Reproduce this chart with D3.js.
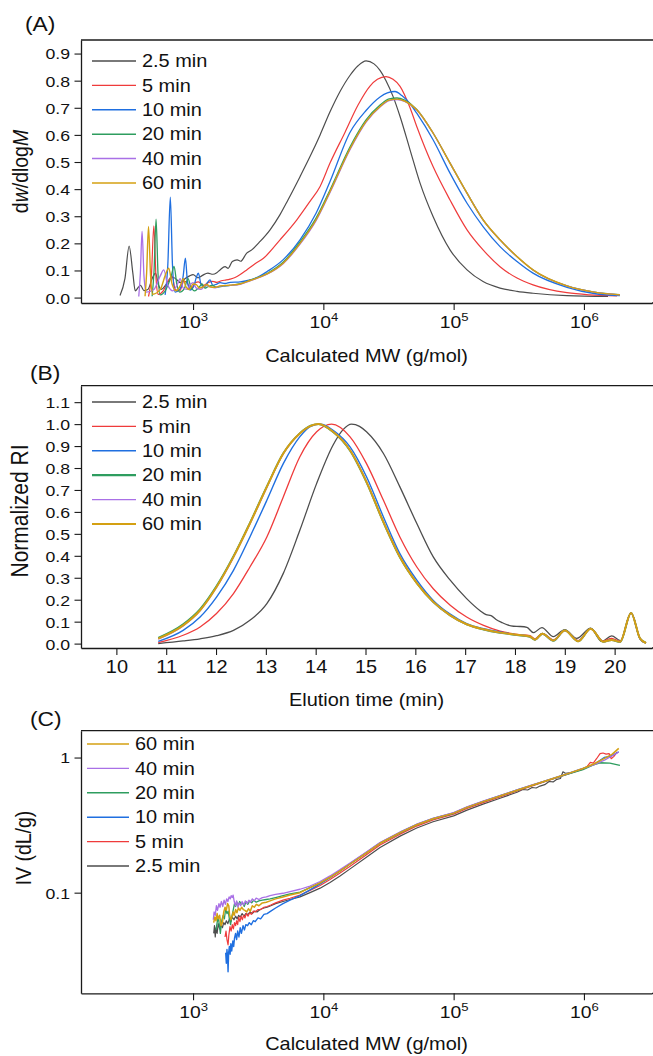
<!DOCTYPE html>
<html>
<head>
<meta charset="utf-8">
<script src="https://cdn.jsdelivr.net/npm/d3@7"></script>
<style>
  body { margin: 0; background: #fff; }
  text { font-family: "Liberation Sans", Arial, Helvetica, sans-serif; fill: #111; }
</style>
</head>
<body>
<svg id="fig" width="653" height="1056"></svg>
<script>
// ---- series info ----
const seriesNames = ['2.5 min', '5 min', '10 min', '20 min', '40 min', '60 min'];
const seriesColors = ['#4d4d4d', '#ef3b3b', '#1f6fe0', '#2e9d5f', '#a970e6', '#d4a012'];

// ---- panel A: dw/dlogM vs MW (g/mol) ----
const distA_25 = [[275,0.008],[300,0.07],[323,0.19],[345,0.09],[360,0.025],[380,0.038],[395,0.045],[420,0.026],[450,0.03],[490,0.075],[515,0.09],[540,0.05],[570,0.03],[620,0.048],[700,0.075],[750,0.066],[800,0.055],[870,0.07],[940,0.08],[1000,0.085],[1090,0.073],[1180,0.082],[1300,0.09],[1420,0.086],[1520,0.092],[1610,0.102],[1760,0.114],[1860,0.108],[2000,0.133],[2180,0.139],[2320,0.134],[2580,0.164],[2820,0.176],[3270,0.207],[3900,0.25],[4650,0.306],[5350,0.36],[6620,0.446],[7900,0.52],[9440,0.6],[11250,0.685],[13430,0.76],[16040,0.82],[18460,0.855],[21270,0.873],[24480,0.862],[27230,0.838],[30260,0.8],[34260,0.742],[38790,0.668],[46270,0.545],[55240,0.422],[69500,0.299],[93800,0.176],[126700,0.102],[168200,0.059],[227000,0.035],[306600,0.023],[406700,0.016],[741000,0.007],[1530000,0.004]];
const distA_5 = [[455,0.004],[480,0.09],[500,0.265],[520,0.07],[540,0.012],[590,0.025],[650,0.065],[690,0.08],[730,0.03],[790,0.025],[850,0.06],[900,0.055],[960,0.03],[1040,0.055],[1100,0.058],[1200,0.045],[1300,0.055],[1420,0.06],[1520,0.056],[1650,0.062],[1800,0.065],[1920,0.068],[2100,0.074],[2300,0.085],[2580,0.102],[2990,0.125],[3470,0.145],[4650,0.213],[6260,0.287],[7900,0.355],[9440,0.41],[11250,0.496],[14680,0.61],[18460,0.71],[22800,0.78],[26000,0.805],[30260,0.815],[34260,0.805],[38790,0.779],[46270,0.7],[52100,0.631],[69500,0.483],[93800,0.36],[126700,0.25],[168200,0.176],[227000,0.114],[306600,0.072],[406700,0.047],[741000,0.018],[1100000,0.01],[1795000,0.006]];
const distA_10 = [[610,0.01],[640,0.12],[669,0.37],[695,0.12],[728,0.02],[790,0.03],[840,0.08],[873,0.145],[905,0.06],[950,0.028],[1010,0.04],[1060,0.075],[1098,0.09],[1150,0.05],[1215,0.038],[1290,0.055],[1350,0.065],[1420,0.045],[1520,0.05],[1610,0.055],[1760,0.052],[1923,0.056],[2300,0.058],[2737,0.065],[3270,0.08],[3700,0.096],[4900,0.139],[6620,0.213],[8790,0.311],[11250,0.428],[16040,0.61],[21270,0.69],[27230,0.74],[31000,0.755],[35490,0.76],[40000,0.745],[46270,0.715],[52100,0.68],[69500,0.582],[93800,0.459],[126700,0.348],[168200,0.262],[227000,0.188],[306600,0.133],[406700,0.09],[741000,0.038],[1200000,0.015],[1890000,0.007]];
const distA_20 = [[485,0.005],[502,0.1],[520,0.289],[538,0.09],[558,0.01],[620,0.03],[680,0.08],[715,0.115],[750,0.05],[790,0.02],[860,0.035],[915,0.07],[960,0.04],[1030,0.025],[1120,0.04],[1170,0.05],[1230,0.035],[1300,0.04],[1400,0.045],[1520,0.038],[1700,0.042],[1923,0.045],[2296,0.051],[2737,0.064],[3698,0.089],[4908,0.13],[6622,0.205],[8790,0.293],[11250,0.397],[16040,0.556],[21270,0.655],[27230,0.71],[32000,0.733],[36790,0.736],[42000,0.728],[52100,0.694],[69500,0.607],[93800,0.496],[126700,0.385],[168200,0.287],[227000,0.213],[306600,0.151],[406700,0.102],[741000,0.043],[1200000,0.02],[1890000,0.011]];
const distA_40 = [[383,0.004],[394,0.09],[406,0.244],[420,0.08],[437,0.02],[500,0.03],[560,0.08],[596,0.102],[640,0.045],[700,0.025],[760,0.05],[795,0.07],[840,0.035],[900,0.03],[960,0.05],[1000,0.055],[1060,0.035],[1150,0.03],[1250,0.045],[1350,0.04],[1475,0.036],[1610,0.042],[1923,0.045],[2296,0.049],[2737,0.062],[3698,0.086],[4908,0.125],[6622,0.197],[8790,0.284],[11250,0.388],[16040,0.546],[21270,0.647],[27230,0.703],[32000,0.726],[36790,0.73],[42000,0.724],[52100,0.692],[69500,0.607],[93800,0.496],[126700,0.385],[168200,0.287],[227000,0.213],[306600,0.151],[406700,0.102],[741000,0.043],[1200000,0.02],[1890000,0.01]];
const distA_60 = [[428,0.005],[440,0.09],[455,0.262],[472,0.08],[490,0.012],[560,0.03],[615,0.085],[650,0.108],[690,0.05],[740,0.025],[800,0.045],[840,0.07],[880,0.04],[940,0.03],[1000,0.05],[1060,0.048],[1120,0.035],[1200,0.04],[1280,0.048],[1350,0.04],[1475,0.038],[1610,0.043],[1923,0.046],[2296,0.05],[2737,0.063],[3698,0.087],[4908,0.127],[6622,0.2],[8790,0.287],[11250,0.391],[16040,0.55],[21270,0.65],[27230,0.705],[32000,0.728],[36790,0.732],[42000,0.725],[52100,0.693],[69500,0.607],[93800,0.496],[126700,0.385],[168200,0.287],[227000,0.213],[306600,0.151],[406700,0.102],[741000,0.043],[1200000,0.02],[1890000,0.01]];

// ---- panel B: normalized RI vs elution time (min) ----
const riB_25 = [[10.84,0],[11.34,0.012],[11.68,0.022],[12.01,0.036],[12.35,0.06],[12.68,0.106],[13.02,0.182],[13.35,0.32],[13.68,0.515],[14.02,0.73],[14.35,0.905],[14.55,0.975],[14.72,1.0],[14.88,0.99],[15.02,0.965],[15.36,0.866],[15.69,0.714],[16.03,0.547],[16.36,0.395],[16.7,0.289],[17.03,0.205],[17.3,0.15],[17.42,0.132],[17.52,0.128],[17.62,0.11],[17.75,0.095],[17.85,0.085],[17.97,0.079],[18.1,0.078],[18.24,0.074],[18.37,0.05],[18.54,0.073],[18.77,0.032],[19.0,0.064],[19.24,0.024],[19.52,0.07],[19.74,0.01],[19.94,0.035],[20.12,0.014],[20.33,0.14],[20.51,0.022],[20.61,0.003]];
const riB_5 = [[10.84,0.005],[11.34,0.038],[11.68,0.076],[12.01,0.137],[12.35,0.228],[12.68,0.349],[13.02,0.486],[13.35,0.668],[13.68,0.85],[14.02,0.965],[14.32,1.0],[14.69,0.942],[15.02,0.82],[15.36,0.653],[15.69,0.486],[16.03,0.349],[16.36,0.25],[16.7,0.175],[17.03,0.121],[17.37,0.083],[17.7,0.057],[18.04,0.042],[18.3,0.036],[18.4,0.022],[18.55,0.047],[18.77,0.017],[19.0,0.06],[19.27,0.014],[19.52,0.068],[19.77,0.012],[19.94,0.024],[20.11,0.01],[20.33,0.14],[20.51,0.023],[20.63,0.003]];
const riB_10 = [[10.84,0.01],[11.34,0.06],[11.68,0.121],[12.01,0.212],[12.35,0.334],[12.68,0.486],[13.02,0.653],[13.35,0.82],[13.68,0.942],[13.9,0.99],[14.1,1.0],[14.35,0.972],[14.69,0.896],[15.02,0.76],[15.36,0.577],[15.69,0.41],[16.03,0.289],[16.36,0.197],[16.7,0.134],[17.03,0.091],[17.37,0.068],[17.7,0.053],[18.04,0.04],[18.3,0.032],[18.4,0.018],[18.55,0.044],[18.77,0.014],[19.0,0.06],[19.27,0.011],[19.52,0.068],[19.77,0.009],[19.94,0.017],[20.11,0.008],[20.33,0.14],[20.51,0.023],[20.63,0.003]];
const riB_20 = [[10.84,0.026],[11.34,0.088],[11.68,0.157],[12.01,0.262],[12.35,0.398],[12.68,0.55],[13.02,0.716],[13.35,0.867],[13.68,0.958],[13.9,0.993],[14.05,1.0],[14.35,0.964],[14.69,0.879],[15.02,0.735],[15.36,0.552],[15.69,0.393],[16.03,0.275],[16.36,0.189],[16.7,0.128],[17.03,0.087],[17.37,0.064],[17.7,0.049],[18.04,0.039],[18.3,0.031],[18.4,0.017],[18.55,0.045],[18.77,0.013],[19.0,0.06],[19.27,0.01],[19.52,0.068],[19.77,0.008],[19.94,0.016],[20.11,0.007],[20.33,0.14],[20.51,0.023],[20.63,0.003]];
const riB_40 = [[10.84,0.021],[11.34,0.081],[11.68,0.15],[12.01,0.256],[12.35,0.393],[12.68,0.545],[13.02,0.712],[13.35,0.865],[13.68,0.956],[13.9,0.992],[14.06,1.0],[14.35,0.966],[14.69,0.882],[15.02,0.738],[15.36,0.555],[15.69,0.396],[16.03,0.277],[16.36,0.19],[16.7,0.129],[17.03,0.088],[17.37,0.065],[17.7,0.05],[18.04,0.04],[18.3,0.032],[18.4,0.018],[18.55,0.045],[18.77,0.014],[19.0,0.06],[19.27,0.011],[19.52,0.068],[19.77,0.009],[19.94,0.017],[20.11,0.008],[20.33,0.14],[20.51,0.023],[20.63,0.003]];
const riB_60 = [[10.84,0.023],[11.34,0.083],[11.68,0.152],[12.01,0.258],[12.35,0.395],[12.68,0.547],[13.02,0.714],[13.35,0.866],[13.68,0.957],[13.9,0.992],[14.06,1.0],[14.35,0.965],[14.69,0.881],[15.02,0.737],[15.36,0.554],[15.69,0.395],[16.03,0.276],[16.36,0.19],[16.7,0.129],[17.03,0.088],[17.37,0.065],[17.7,0.05],[18.04,0.04],[18.3,0.032],[18.4,0.018],[18.55,0.045],[18.77,0.014],[19.0,0.06],[19.27,0.011],[19.52,0.068],[19.77,0.009],[19.94,0.017],[20.11,0.008],[20.33,0.14],[20.51,0.023],[20.63,0.003]];

// ---- panel C: IV (dL/g) vs MW (g/mol) ----
const ivC_25 = [[1440,0.05],[1460,0.057],[1480,0.047],[1500,0.055],[1530,0.05],[1560,0.059],[1600,0.054],[1640,0.058],[1680,0.055],[1720,0.06],[1760,0.058],[1800,0.062],[1850,0.059],[1900,0.064],[1950,0.061],[2000,0.066],[2060,0.063],[2120,0.067],[2180,0.064],[2240,0.068],[2300,0.066],[2380,0.07],[2460,0.067],[2540,0.07],[2640,0.069],[2740,0.072],[2850,0.07],[2960,0.073],[3100,0.072],[3270,0.075],[3500,0.077],[3700,0.078],[3950,0.08],[4300,0.083],[4900,0.086],[5550,0.089],[6620,0.093],[7900,0.1],[9440,0.108],[11250,0.119],[13430,0.133],[16040,0.15],[21270,0.182],[27230,0.216],[38790,0.262],[52100,0.301],[69500,0.335],[100000,0.37],[126700,0.408],[168200,0.452],[227000,0.5],[306600,0.553],[340000,0.58],[370000,0.575],[400000,0.6],[430000,0.595],[460000,0.615],[500000,0.63],[540000,0.665],[580000,0.66],[620000,0.69],[660000,0.7],[690000,0.785],[720000,0.765],[780000,0.77]];
const ivC_5 = [[1760,0.047],[1790,0.052],[1820,0.045],[1856,0.041],[1880,0.048],[1920,0.056],[1960,0.052],[2000,0.058],[2040,0.054],[2080,0.06],[2120,0.057],[2160,0.062],[2200,0.058],[2240,0.066],[2290,0.061],[2340,0.067],[2390,0.063],[2440,0.068],[2500,0.065],[2560,0.07],[2640,0.067],[2720,0.071],[2800,0.069],[2900,0.073],[3000,0.072],[3150,0.075],[3300,0.075],[3500,0.078],[3700,0.079],[3950,0.081],[4300,0.084],[4900,0.088],[5550,0.091],[6620,0.096],[7900,0.104],[9440,0.113],[11250,0.125],[13430,0.14],[16040,0.157],[21270,0.19],[27230,0.225],[38790,0.271],[52100,0.311],[69500,0.345],[100000,0.381],[126700,0.42],[168200,0.464],[227000,0.512],[306600,0.565],[406700,0.62],[549400,0.683],[741000,0.75],[984000,0.82],[1060000,0.86],[1120000,0.92],[1180000,0.91],[1250000,0.98],[1330000,1.07],[1400000,1.08],[1480000,1.06],[1560000,1.07],[1620000,0.98],[1700000,1.02],[1800000,1.1]];
const ivC_10 = [[1780,0.036],[1800,0.03],[1820,0.038],[1840,0.034],[1856,0.026],[1875,0.036],[1900,0.04],[1925,0.035],[1950,0.042],[1980,0.037],[2020,0.044],[2050,0.04],[2080,0.046],[2120,0.05],[2160,0.045],[2200,0.052],[2250,0.047],[2300,0.055],[2350,0.05],[2420,0.057],[2480,0.053],[2540,0.058],[2620,0.057],[2700,0.06],[2800,0.058],[2900,0.062],[3000,0.061],[3150,0.065],[3300,0.064],[3500,0.069],[3700,0.07],[3950,0.073],[4300,0.077],[4900,0.083],[5550,0.088],[6620,0.095],[7900,0.105],[9440,0.116],[11250,0.129],[13430,0.145],[16040,0.164],[21270,0.198],[27230,0.234],[38790,0.28],[52100,0.32],[69500,0.354],[100000,0.39],[126700,0.43],[168200,0.474],[227000,0.522],[306600,0.575],[406700,0.628],[549400,0.69],[741000,0.757],[984000,0.83],[1200000,0.89],[1430000,1.0],[1600000,1.02],[1850000,1.1]];
const ivC_20 = [[1500,0.053],[1530,0.06],[1560,0.066],[1590,0.058],[1620,0.05],[1660,0.062],[1700,0.068],[1740,0.064],[1780,0.076],[1820,0.07],[1860,0.073],[1900,0.064],[1940,0.058],[1980,0.066],[2030,0.074],[2080,0.083],[2120,0.079],[2170,0.085],[2220,0.08],[2280,0.086],[2340,0.082],[2400,0.084],[2470,0.079],[2550,0.086],[2630,0.082],[2720,0.087],[2820,0.084],[2920,0.088],[3050,0.085],[3200,0.087],[3400,0.088],[3650,0.089],[3900,0.09],[4300,0.092],[4900,0.095],[5550,0.098],[6620,0.101],[7900,0.109],[9440,0.118],[11250,0.13],[13430,0.145],[16040,0.163],[21270,0.196],[27230,0.231],[38790,0.277],[52100,0.317],[69500,0.351],[100000,0.387],[126700,0.427],[168200,0.471],[227000,0.519],[306600,0.572],[406700,0.625],[549400,0.686],[741000,0.752],[984000,0.815],[1170000,0.88],[1330000,0.915],[1580000,0.91],[1890000,0.875]];
const ivC_40 = [[1430,0.063],[1450,0.072],[1480,0.068],[1510,0.08],[1540,0.074],[1580,0.083],[1610,0.078],[1650,0.086],[1690,0.079],[1730,0.088],[1770,0.082],[1810,0.09],[1850,0.086],[1890,0.093],[1930,0.09],[1960,0.095],[2000,0.092],[2030,0.096],[2070,0.086],[2110,0.08],[2160,0.087],[2210,0.078],[2260,0.084],[2320,0.08],[2380,0.086],[2450,0.081],[2520,0.087],[2600,0.083],[2680,0.088],[2760,0.085],[2850,0.09],[2950,0.087],[3050,0.091],[3200,0.089],[3400,0.092],[3650,0.093],[3900,0.095],[4300,0.097],[4900,0.099],[5550,0.102],[6620,0.106],[7900,0.112],[9440,0.121],[11250,0.133],[13430,0.148],[16040,0.166],[21270,0.199],[27230,0.235],[38790,0.281],[52100,0.321],[69500,0.355],[100000,0.391],[126700,0.431],[168200,0.475],[227000,0.523],[306600,0.576],[406700,0.63],[549400,0.69],[741000,0.758],[984000,0.83],[1200000,0.885],[1450000,0.96],[1650000,1.03],[1850000,1.1]];
const ivC_60 = [[1440,0.06],[1470,0.066],[1500,0.062],[1530,0.07],[1560,0.064],[1600,0.068],[1640,0.057],[1680,0.06],[1720,0.072],[1760,0.078],[1800,0.074],[1840,0.083],[1880,0.08],[1910,0.068],[1950,0.063],[1990,0.066],[2030,0.072],[2070,0.068],[2120,0.075],[2170,0.071],[2230,0.077],[2290,0.074],[2360,0.078],[2430,0.075],[2500,0.074],[2580,0.072],[2660,0.076],[2750,0.073],[2850,0.08],[2950,0.078],[3060,0.082],[3200,0.08],[3400,0.084],[3650,0.085],[3900,0.087],[4300,0.09],[4900,0.093],[5550,0.096],[6620,0.1],[7900,0.109],[9440,0.118],[11250,0.13],[13430,0.145],[16040,0.163],[21270,0.196],[27230,0.232],[38790,0.278],[52100,0.318],[69500,0.352],[100000,0.388],[126700,0.428],[168200,0.472],[227000,0.52],[306600,0.573],[406700,0.627],[549400,0.688],[741000,0.757],[984000,0.83],[1200000,0.9],[1450000,0.99],[1650000,1.06],[1850000,1.17]];

// ---- ticks ----
const tickA_y = [0, 0.1, 0.2, 0.3, 0.4, 0.5, 0.6, 0.7, 0.8, 0.9];
const tickB_y = [0, 0.1, 0.2, 0.3, 0.4, 0.5, 0.6, 0.7, 0.8, 0.9, 1.0, 1.1];
const tickB_x = [10, 11, 12, 13, 14, 15, 16, 17, 18, 19, 20];
const tickMW_x = [1e3, 1e4, 1e5, 1e6];
const tickC_y = [0.1, 1];

const distA = [distA_25, distA_5, distA_10, distA_20, distA_40, distA_60];
const riB = [riB_25, riB_5, riB_10, riB_20, riB_40, riB_60];
const ivC = [ivC_25, ivC_5, ivC_10, ivC_20, ivC_40, ivC_60];

const SX = 1.14;        // glyphs in the source are a bit wide
const L = 81, R = 652;
const svg = d3.select('#fig');
const ink = '#1a1a1a';

function logMinors(lo, hi) {
  const out = [];
  for (let e = Math.floor(Math.log10(lo)); e <= Math.ceil(Math.log10(hi)); e++) {
    for (let m = 2; m <= 9; m++) {
      const v = m * Math.pow(10, e);
      if (v >= lo && v <= hi) out.push(v);
    }
  }
  return out;
}

function txt(g, x, y, s, size, anchor) {
  return g.append('text')
    .attr('transform', `translate(${x},${y}) scale(${SX},1)`)
    .attr('font-size', size)
    .attr('text-anchor', anchor || 'start')
    .text(s);
}

function frame(top) {
  svg.append('line').attr('x1', L).attr('x2', 653).attr('y1', top).attr('y2', top)
    .attr('stroke', ink).attr('stroke-width', 1.3);
}

function leftAxis(y, major, minor, fmt, labelSize) {
  const g = svg.append('g').attr('transform', `translate(${L},0)`);
  g.call(d3.axisLeft(y).tickValues(minor).tickSize(3.5).tickFormat('').tickSizeOuter(0));
  g.call(d3.axisLeft(y).tickValues(major).tickSize(6.5).tickSizeOuter(0).tickFormat(fmt));
  g.selectAll('.domain').attr('stroke', ink).attr('stroke-width', 1.3);
  g.selectAll('.tick line').attr('stroke', ink).attr('stroke-width', 1.1);
  g.attr('font-size', labelSize).attr('font-family', null);
  g.selectAll('.tick text').attr('x', null).attr('dy', '0.35em')
    .attr('transform', `translate(-11,0) scale(${SX},1)`).attr('fill', '#111');
  return g;
}

function bottomAxis(x, yPos, major, minor, fmt, labelSize, sup) {
  const g = svg.append('g').attr('transform', `translate(0,${yPos})`);
  g.append('line').attr('x1', R).attr('x2', 653).attr('stroke', ink).attr('stroke-width', 1.3);
  g.call(d3.axisBottom(x).tickValues(minor).tickSize(4).tickFormat('').tickSizeOuter(0));
  g.call(d3.axisBottom(x).tickValues(major).tickSize(7).tickSizeOuter(0).tickFormat(sup ? () => '' : fmt));
  g.selectAll('.domain').attr('stroke', ink).attr('stroke-width', 1.3);
  g.selectAll('.tick line').attr('stroke', ink).attr('stroke-width', 1.1);
  g.attr('font-size', labelSize).attr('font-family', null);
  g.selectAll('.tick text').attr('y', null).attr('dy', null)
    .attr('transform', `translate(0,25) scale(${SX},1)`).attr('fill', '#111');
  if (sup) {
    g.selectAll('.tick text').each(function (d) {
      const t = d3.select(this);
      if (!d || major.indexOf(d) < 0) return;
      t.append('tspan').text('10');
      t.append('tspan').attr('dy', -7).attr('font-size', 11.5).text(Math.round(Math.log10(d)));
    });
  }
  return g;
}

function legend(x0, x1, tx, y0, order, widths) {
  order.forEach((k, i) => {
    const yy = y0 + i * 24.4;
    svg.append('line').attr('x1', x0).attr('x2', x1).attr('y1', yy).attr('y2', yy)
      .attr('stroke', seriesColors[k]).attr('stroke-width', widths[k]);
    txt(svg, tx, yy + 6.2, seriesNames[k], 17.5, 'start');
  });
}

function drawLines(data, x, y, widths, curve) {
  const line = d3.line().x(d => x(d[0])).y(d => y(d[1])).curve(curve);
  data.forEach((s, k) => {
    svg.append('path').datum(s).attr('d', line)
      .attr('fill', 'none').attr('stroke', seriesColors[k])
      .attr('stroke-width', widths[k]).attr('stroke-linejoin', 'round');
  });
}

function yTitle(x, y, size) {
  return svg.append('text').attr('transform', `translate(${x},${y}) scale(${SX},1) rotate(-90)`)
    .attr('font-size', size).attr('text-anchor', 'middle');
}

// ================= panel A =================
const xA = d3.scaleLog().domain([138, 3.33e6]).range([L, R]);
const yA = d3.scaleLinear().domain([-0.02, 0.95]).range([303, 40]);
frame(40);
drawLines(distA, xA, yA, [1.2, 1.2, 1.3, 1.3, 1.3, 1.4], d3.curveMonotoneX);
leftAxis(yA, tickA_y, d3.range(0.05, 0.96, 0.1), d3.format('.1f'), 15.5);
bottomAxis(xA, 303, tickMW_x, logMinors(138, 3.33e6), null, 17, true);
legend(92, 136, 142, 61, [0, 1, 2, 3, 4, 5], [1.3, 1.3, 1.5, 1.5, 1.5, 1.6]);
txt(svg, 25, 31, '(A)', 20, 'start');
txt(svg, 366.5, 362, 'Calculated MW (g/mol)', 17.5, 'middle');
{
  const t = yTitle(28, 171.5, 19.5);
  t.append('tspan').text('d');
  t.append('tspan').attr('font-style', 'italic').text('w');
  t.append('tspan').text('/dlog');
  t.append('tspan').attr('font-style', 'italic').text('M');
}

// ================= panel B =================
const xB = d3.scaleLinear().domain([9.29, 20.75]).range([L, R]);
const yB = d3.scaleLinear().domain([-0.02, 1.175]).range([648, 385.7]);
frame(385.7);
drawLines(riB, xB, yB, [1.3, 1.3, 1.4, 1.8, 1.4, 2.0], d3.curveMonotoneX);
leftAxis(yB, tickB_y, d3.range(0.05, 1.16, 0.1), d3.format('.1f'), 15.5);
bottomAxis(xB, 648, tickB_x, d3.range(9.5, 20.6, 1), d3.format('d'), 17.5, false);
legend(92, 136, 142, 402, [0, 1, 2, 3, 4, 5], [1.3, 1.4, 1.5, 2.2, 1.4, 2.2]);
txt(svg, 30, 380, '(B)', 20, 'start');
txt(svg, 366.5, 706, 'Elution time (min)', 17.5, 'middle');
yTitle(28, 511, 21).text('Normalized RI');

// ================= panel C =================
const xC = d3.scaleLog().domain([138, 3.33e6]).range([L, R]);
const yC = d3.scaleLog().domain([0.018, 1.58]).range([993.3, 730.7]);
frame(730.7);
drawLines(ivC, xC, yC, [1.2, 1.2, 1.4, 1.3, 1.3, 1.5], d3.curveLinear);
leftAxis(yC, tickC_y, logMinors(0.018, 1.58), d => (d >= 1 ? '1' : '0.1'), 15.5);
bottomAxis(xC, 993.3, tickMW_x, logMinors(138, 3.33e6), null, 17, true);
legend(87, 129, 135, 744, [5, 4, 3, 2, 1, 0], [1.5, 1.4, 1.4, 1.5, 1.4, 1.3]);
txt(svg, 30, 726, '(C)', 20, 'start');
txt(svg, 366.5, 1050, 'Calculated MW (g/mol)', 17.5, 'middle');
yTitle(30.5, 848, 19.5).text('IV (dL/g)');
</script>
</body>
</html>
